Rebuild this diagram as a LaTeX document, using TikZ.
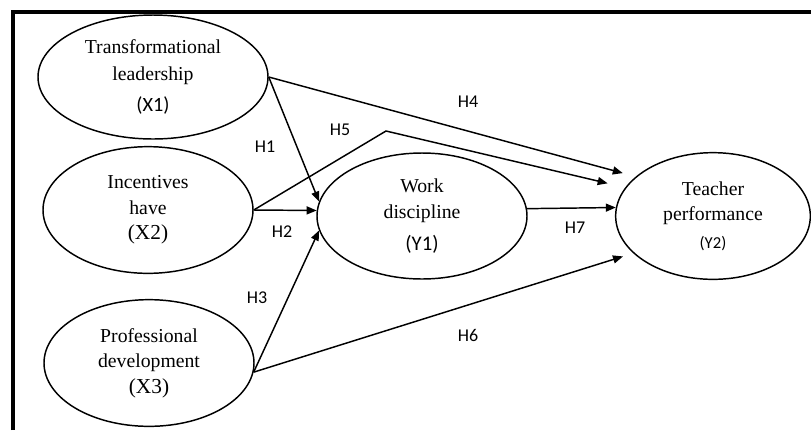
\documentclass[tikz,border=0pt]{standalone}
\usepackage{fontspec}
\setmainfont{Liberation Serif}
\newfontfamily\hfont{Carlito}
\usetikzlibrary{shapes.geometric,arrows.meta}

\begin{document}
\begin{tikzpicture}[x=0.75pt,y=-0.75pt,
  latent/.style={draw,ellipse,line width=1.1pt,inner sep=0pt,minimum width=157.5pt,minimum height=95pt,align=center,font=\fontsize{14.8}{19}\selectfont},
  hyp/.style={-{Triangle[length=7.5pt,width=6pt]},line width=1.1pt},
  hlabel/.style={font=\hfont\fontsize{13.5}{16}\selectfont}]
\useasboundingbox (0,0) rectangle (811,430);
\draw[line width=2.6pt] (13,430)--(13,12)--(811,12);
\node[latent,minimum width=172.5pt,minimum height=93pt] (tl) at (153,77) {Transformational\\[1pt]leadership\\[4pt]{\hfont\fontsize{15.2}{18}\selectfont (X1)}};
\node[latent] (inc) at (148,210) {Incentives\\have\\{\fontsize{16}{19}\selectfont (X2)}};
\node[latent] (prof) at (149,363) {Professional\\development\\{\fontsize{16}{19}\selectfont (X3)}};
\node[latent,minimum height=94.5pt] (wd) at (422,216) {Work\\discipline\\[5pt]{\hfont\fontsize{15.6}{18}\selectfont (Y1)}};
\node[latent,minimum width=146pt] (tp) at (713,216) {Teacher\\performance\\[2pt]{\hfont\fontsize{12.5}{15}\selectfont (Y2)}};
\coordinate (bend) at (386,131);
\draw[hyp] (tl.east) -- (wd.172);
\draw[hyp,shorten >=10pt] (tl.east) -- (tp.153);
\draw[hyp] (inc.east) -- (wd.177);
\draw[hyp,shorten >=13.5pt] (inc.east) -- (bend) -- (tp.162);
\draw[hyp] (prof.-5) -- (wd.188);
\draw[hyp,shorten >=8pt] (prof.-5) -- (tp.205);
\draw[hyp] (wd.4) -- (tp.175);
\node[hlabel] (h1) at (265,147) {H1};
\node[hlabel] (h2) at (282,232) {H2};
\node[hlabel] (h3) at (257,298) {H3};
\node[hlabel] (h4) at (468,102) {H4};
\node[hlabel] (h5) at (340,130) {H5};
\node[hlabel] (h6) at (468,335) {H6};
\node[hlabel] (h7) at (575,228) {H7};
\end{tikzpicture}
\end{document}
